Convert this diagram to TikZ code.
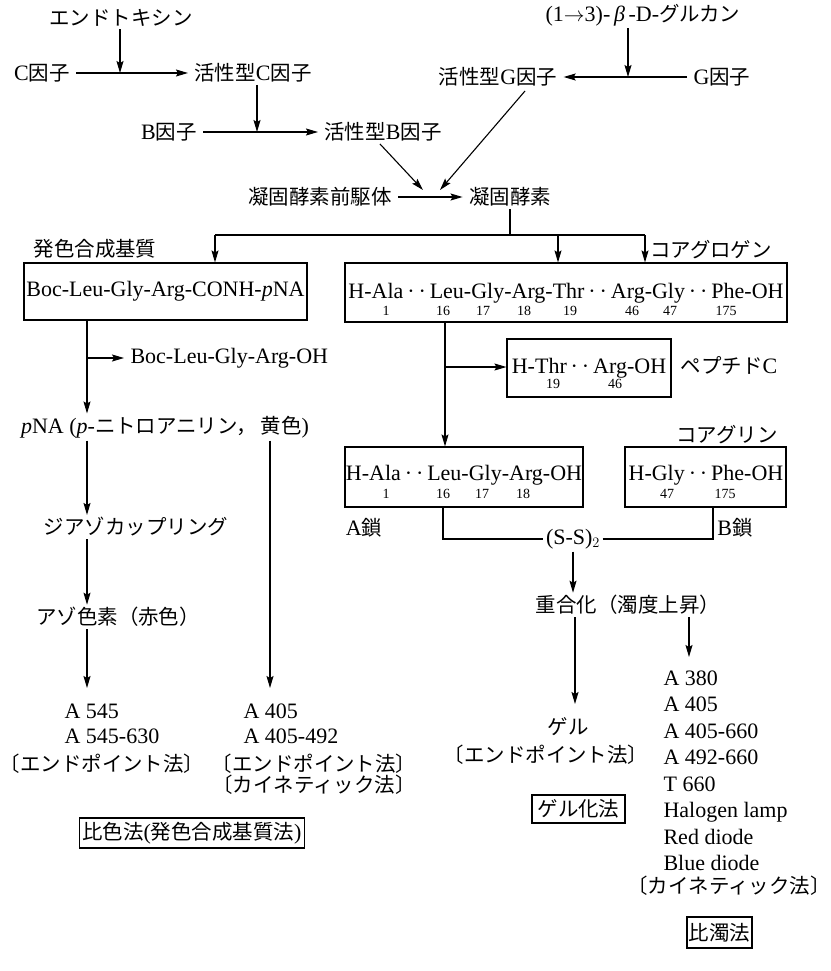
\documentclass[tikz,border=0pt]{standalone}
\usepackage{fontspec}
\setmainfont{Liberation Serif}
\newfontfamily\jp{Noto Sans CJK JP}[Scale=0.93]
\usetikzlibrary{arrows.meta,calc}
\newcommand\J[1]{{\jp #1}}
\newcommand\dd{\hbox to 1.2em{\hss·\hss·\hss}}
\begin{document}
\begin{tikzpicture}[x=1pt,y=-1pt,line width=1.1pt,
  font=\fontsize{22}{26}\selectfont,
  t/.style={inner xsep=6pt,inner ysep=2pt},
  t0/.style={inner xsep=0pt,inner ysep=2pt},
  arr/.style={-{Stealth[length=12pt,width=7pt,inset=2pt]}},
  num/.style={font=\fontsize{14}{15}\selectfont,inner sep=0pt},
  lst/.style={anchor=base west,inner sep=0pt},
  sq/.style={anchor=base,inner sep=0pt},
  bx/.style={draw,inner sep=0pt}]
\useasboundingbox (0,0) rectangle (830,971);

% ---- top cascade
\node[t] (endo) at (121,18) {\J{エンドトキシン}};
\node[t] (C) at (42,73) {C\J{因子}};
\node[t] (aC) at (253,73) {\J{活性型}C\J{因子}};
\coordinate (j1) at (120,73);
\draw[arr] (C) -- (aC);
\draw[arr] (endo.south -| j1) -- (j1);

\node[t] (B) at (169,132) {B\J{因子}};
\node[t] (aB) at (383,132) {\J{活性型}B\J{因子}};
\coordinate (j2) at (257,132);
\draw[arr] (B) -- (aB);
\draw[arr] (aC.south -| j2) -- (j2);

\node[t] (glu) at (643,15) {(1$\rightarrow$3)-\,\textit{β}\,-D-\J{グルカン}};
\node[t] (aG) at (498,77) {\J{活性型}G\J{因子}};
\node[t] (G) at (722,77) {G\J{因子}};
\coordinate (j3) at (628,77);
\draw[arr] (G) -- (aG);
\draw[arr] (glu.south -| j3) -- (j3);

\node[t] (pro) at (320,197) {\J{凝固酵素前駆体}};
\node[t] (enz) at (510,197) {\J{凝固酵素}};
\draw[arr] (pro) -- (enz);
\coordinate (d1) at (423,190);
\coordinate (d2) at (440,190);
\draw[arr] ($(aB.south)+(-3,0)$) -- (d1);
\draw[arr] ($(aG.south)+(27,2)$) -- (d2);

% ---- branching
\coordinate (hE) at (510,235);
\coordinate (hL) at (215,235);
\coordinate (hM) at (558,235);
\coordinate (hR) at (645,235);
\node[t] (lbl1) at (95,249) {\J{発色合成基質}};
\node[t] (lbl2) at (711,250) {\J{コアグロゲン}};
\node[bx,minimum width=283pt,minimum height=57pt] (lbox) at (165.5,291.5) {Boc-Leu-Gly-Arg-CONH-\textit{p}NA};
\node[bx,minimum width=442pt,minimum height=59pt] (big) at (566,292.5) {};
\draw (enz.south) -- (hE);
\draw (hL) -- (hR);
\draw[arr] (hL) -- (lbox.north -| hL);
\draw[arr] (hM) -- (big.north -| hM);
\draw[arr] (hR) -- (big.north -| hR);

\node[sq] (seq) at (566,298) {H-Ala\dd Leu-Gly-Arg-Thr\dd Arg-Gly\dd Phe-OH};
\node[num] (n1) at (386,311) {1};
\node[num] (n16) at (443,311) {16};
\node[num] (n17) at (483,311) {17};
\node[num] (n18) at (524,311) {18};
\node[num] (n19) at (570,311) {19};
\node[num] (n46) at (632,311) {46};
\node[num] (n47) at (670,311) {47};
\node[num] (n175) at (726,311) {175};

% ---- right branch
\node[bx,minimum width=164pt,minimum height=58pt] (pbox) at (589,368) {};
\node[sq] (pseq) at (589,373) {H-Thr\dd Arg-OH};
\node[num] (p19) at (553,384) {19};
\node[num] (p46) at (615,384) {46};
\node[t] (pepC) at (729,365) {\J{ペプチド}C};

\node[bx,minimum width=238pt,minimum height=60pt] (abox) at (464,477) {};
\node[sq] (aseq) at (464,480) {H-Ala\dd Leu-Gly-Arg-OH};
\node[num] (a1) at (386,494) {1};
\node[num] (a16) at (443,494) {16};
\node[num] (a17) at (482,494) {17};
\node[num] (a18) at (523,494) {18};

\node[bx,minimum width=161pt,minimum height=60pt] (bbox) at (705.5,477) {};
\node[sq] (bseq) at (706,480) {H-Gly\dd Phe-OH};
\node[num] (b47) at (667,494) {47};
\node[num] (b175) at (725,494) {175};

\coordinate (s1) at (445,367);
\draw[arr] (big.south -| s1) -- (abox.north -| s1);
\draw[arr] (s1) -- (pbox.west |- s1);

\node[t] (coag) at (727,435) {\J{コアグリン}};
\node[t] (Ach) at (364,528) {A\J{鎖}};
\node[t] (Bch) at (735,528) {B\J{鎖}};

\node[inner sep=2pt] (SS) at (573,539) {(S-S)$_2$};
\coordinate (ka) at (443,539);
\coordinate (kb) at (713,539);
\draw (abox.south -| ka) -- (ka) -- (SS.west);
\draw (SS.east) -- (kb) -- (bbox.south -| kb);

\node[t] (poly) at (628,605) {\J{重合化（濁度上昇）}};
\draw[arr] (SS.south) -- (poly.north -| SS.south);

\node[t] (gel) at (568,727) {\J{ゲル}};
\node[t0] (ep3) at (546,755) {\J{〔エンドポイント法〕}};
\node[bx,minimum width=93pt,minimum height=28pt] (gelbox) at (578.5,809) {\J{ゲル化法}};
\coordinate (g1) at (575,704);
\draw[arr] (poly.south -| g1) -- (g1);
\coordinate (k6) at (689,657);
\draw[arr] (poly.south -| k6) -- (k6);

\node[lst] (l1) at (663,685) {A 380};
\node[lst] (l2) at (663,711.5) {A 405};
\node[lst] (l3) at (663,738) {A 405-660};
\node[lst] (l4) at (663,764.5) {A 492-660};
\node[lst] (l5) at (663,791) {T 660};
\node[lst] (l6) at (663,817.5) {Halogen lamp};
\node[lst] (l7) at (663,844) {Red diode};
\node[lst] (l8) at (663,870.5) {Blue diode};
\node[t0] (kin2) at (729,886) {\J{〔カイネティック法〕}};
\node[bx,minimum width=65pt,minimum height=31pt] (turb) at (719.5,932.5) {\J{比濁法}};

% ---- left branch
\coordinate (v1) at (87,358);
\node[t,anchor=west] (boh) at (124,358) {Boc-Leu-Gly-Arg-OH};
\node[t] (pna) at (165,427) {\textit{p}NA (\textit{p}-\J{ニトロアニリン，\,黄色})};
\draw[arr] (lbox.south -| v1) -- (pna.north -| v1);
\draw[arr] (v1) -- (boh.west);

\node[t] (diazo) at (136,527) {\J{ジアゾカップリング}};
\node[t] (azo) at (118,617) {\J{アゾ色素（赤色）}};
\draw[arr] (pna.south -| v1) -- (diazo.north -| v1);
\draw[arr] (diazo.south -| v1) -- (azo.north -| v1);
\coordinate (t1) at (87,688);
\coordinate (t2) at (270,688);
\draw[arr] (azo.south -| t1) -- (t1);
\draw[arr] (pna.south -| t2) -- (t2);

\node[lst] (a545) at (64,718) {A 545};
\node[lst] (a545b) at (64,743) {A 545-630};
\node[t0] (ep1) at (102,764) {\J{〔エンドポイント法〕}};
\node[lst] (a405) at (243,718) {A 405};
\node[lst] (a405b) at (243,743) {A 405-492};
\node[t0] (ep2) at (314,764) {\J{〔エンドポイント法〕}};
\node[t0] (kin1) at (314,785) {\J{〔カイネティック法〕}};

\node[bx,anchor=east,inner xsep=3pt,minimum height=30pt] (cbox) at (305,833) {\J{比色法}(\J{発色合成基質法})};
\end{tikzpicture}
\end{document}
